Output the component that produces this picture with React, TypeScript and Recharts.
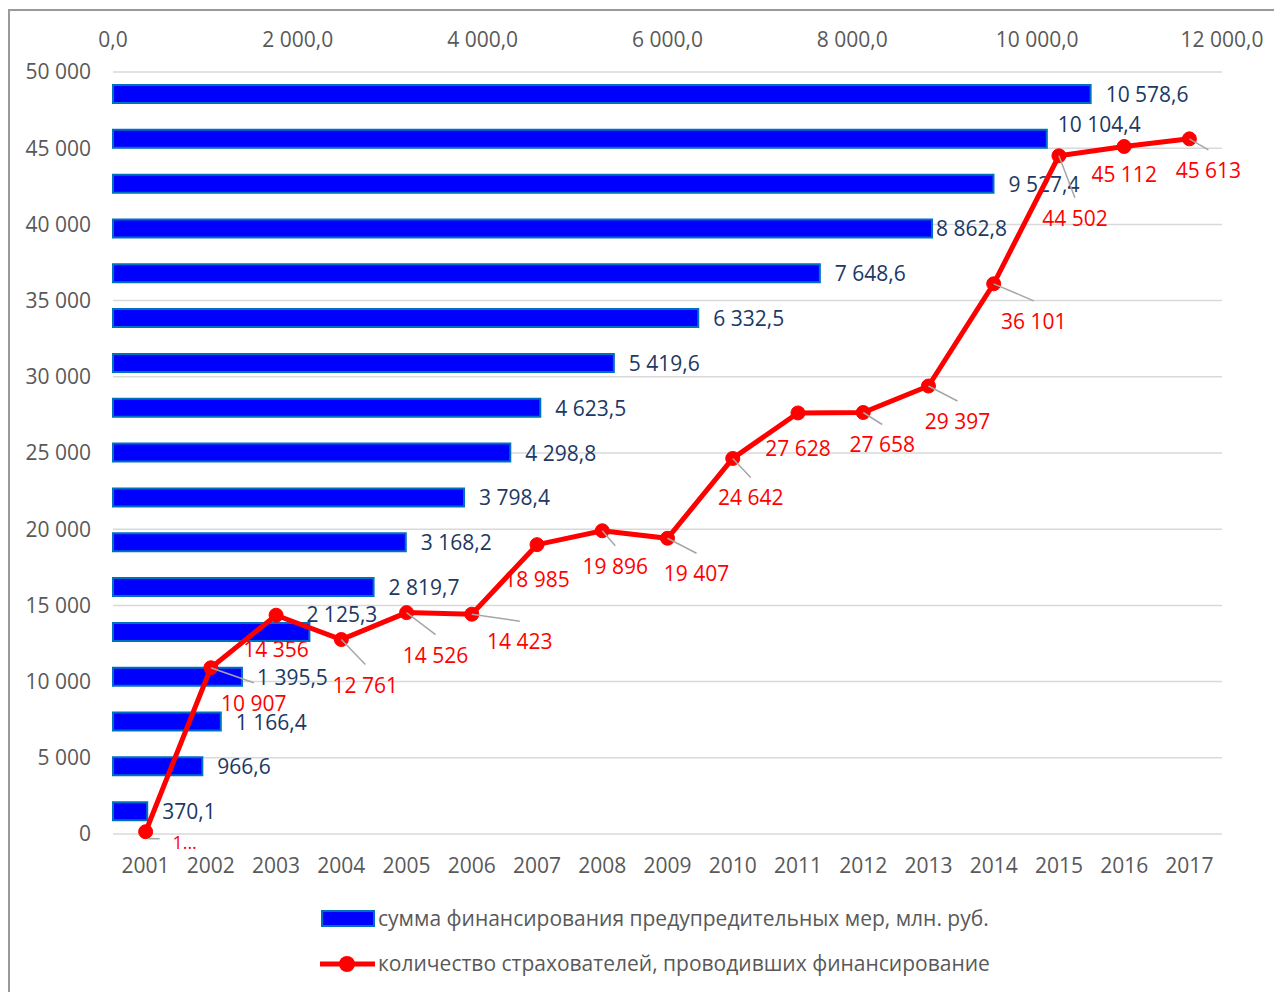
import React from "react"
import { BarChart, Bar, LineChart, Line, XAxis, YAxis, CartesianGrid, LabelList } from "recharts"

const years = ["2001", "2002", "2003", "2004", "2005", "2006", "2007", "2008", "2009", "2010", "2011", "2012", "2013", "2014", "2015", "2016", "2017"]
const fundingMln = [370.1, 966.6, 1166.4, 1395.5, 2125.3, 2819.7, 3168.2, 3798.4, 4298.8, 4623.5, 5419.6, 6332.5, 7648.6, 8862.8, 9527.4, 10104.4, 10578.6]
const insurersCount = [150, 10907, 14356, 12761, 14526, 14423, 18985, 19896, 19407, 24642, 27628, 27658, 29397, 36101, 44502, 45112, 45613]
const fundingTicks = [0, 2000, 4000, 6000, 8000, 10000, 12000]
const countTicks = [0, 5000, 10000, 15000, 20000, 25000, 30000, 35000, 40000, 45000, 50000]

// label nudges (where labels were dragged by hand in the original)
const pointLabelNudge: [number, number][] = [
  [39, 10], [43, 35], [0, 34], [24, 45], [29, 42], [48, 27], [0, 34], [13, 35], [29, 35],
  [18, 39], [0, 35], [19, 32], [29, 35], [40, 37], [16, 62], [0, 28], [19, 31],
]
const barLabelNudge: [number, number][] = [
  [0, 0], [0, 0], [0, 0], [0, 0], [-18, -18], [0, 0], [0, 0], [0, 0], [0, 0],
  [0, 0], [0, 0], [0, 0], [0, 0], [-11, 0], [0, 0], [-4, -15], [0, 0],
]

const data = years.map((year, i) => ({ year, funding: fundingMln[i], insurers: insurersCount[i] }))

const W = 1274
const H = 984
const FONT = "'Open Sans', sans-serif"
const AXIS_GRAY = "#595959"

const groupThousands = (s: string) => s.replace(/\B(?=(\d{3})+(?!\d))/g, " ")
const fmt0 = (v: number) => groupThousands(Math.round(v).toString())
const fmt1 = (v: number) => {
  const [i, d] = v.toFixed(1).split(".")
  return groupThousands(i) + "," + d
}

function BarValueLabel(props: any) {
  const { x, y, width, height, value, index } = props
  const [dx, dy] = barLabelNudge[index] || [0, 0]
  return (
    <text x={x + width + 15 + dx} y={y + height / 2 + dy} fill="#203864" fontSize={21} fontFamily={FONT} textAnchor="start" dominantBaseline="central">
      {fmt1(value)}
    </text>
  )
}

function PointLabel(props: any) {
  const { x, y, value, index } = props
  const [dx, dy] = pointLabelNudge[index] || [0, 30]
  const first = index === 0
  return (
    <g>
      {!first && dx !== 0 && (
        <line x1={x} y1={y} x2={x + dx} y2={y + dy - 20} stroke="#a6a6a6" strokeWidth={1.5} />
      )}
      {first && <polyline points={`${x + 2},${y + 7} ${x + 14},${y + 7}`} stroke="#a6a6a6" strokeWidth={1.5} fill="none" />}
      <text x={x + dx} y={y + dy} fill="#ff0000" fontSize={first ? 18 : 21} fontFamily={FONT} textAnchor="middle" dominantBaseline="central">
        {first ? "1..." : fmt0(value)}
      </text>
    </g>
  )
}

export default function App() {
  const layer: React.CSSProperties = { position: "absolute", left: 0, top: 0 }
  return (
    <div style={{ position: "relative", width: W, height: H, fontFamily: FONT, background: "#fff" }}>
      <div style={{ position: "absolute", left: 0, top: 1, width: W, height: H, borderLeft: "2px solid #9a9a9a", borderTop: "2px solid #9a9a9a", boxSizing: "border-box" }} />

      {/* grid and count/year axes */}
      <div style={layer}>
        <LineChart width={W} height={H} data={data} margin={{ top: 64, right: 60, left: 5, bottom: 98 }}>
          <CartesianGrid vertical={false} stroke="#d9d9d9" strokeWidth={1.5} />
          <XAxis dataKey="year" scale="band" height={60} axisLine={false} tickLine={false} tickMargin={18} tick={{ fill: AXIS_GRAY, fontSize: 21 }} interval={0} />
          <YAxis width={100} domain={[0, 50000]} ticks={countTicks} axisLine={false} tickLine={false} tickMargin={16} tickFormatter={fmt0} tick={{ fill: AXIS_GRAY, fontSize: 21 }} interval={0} />
          <Line dataKey="insurers" stroke="none" dot={false} activeDot={false} isAnimationActive={false} />
        </LineChart>
      </div>

      {/* horizontal bars on the top axis */}
      <div style={layer}>
        <BarChart width={W} height={H} data={data} layout="vertical" margin={{ top: 24, right: 60, left: 105, bottom: 158 }}>
          <XAxis type="number" orientation="top" height={40} domain={[0, 12000]} ticks={fundingTicks} axisLine={false} tickLine={false} tickMargin={19} tickFormatter={fmt1} tick={{ fill: AXIS_GRAY, fontSize: 21 }} interval={0} />
          <YAxis type="category" dataKey="year" reversed hide />
          <Bar dataKey="funding" fill="#0000ff" stroke="#0070c0" strokeWidth={2} barSize={18} isAnimationActive={false}>
            <LabelList dataKey="funding" content={<BarValueLabel />} />
          </Bar>
        </BarChart>
      </div>

      {/* count line on top */}
      <div style={layer}>
        <LineChart width={W} height={H} data={data} margin={{ top: 64, right: 60, left: 105, bottom: 158 }}>
          <XAxis dataKey="year" scale="band" hide />
          <YAxis domain={[0, 50000]} hide />
          <Line type="linear" dataKey="insurers" stroke="#ff0000" strokeWidth={5} dot={{ r: 7, fill: "#ff0000", stroke: "#ff0000", strokeWidth: 1 }} isAnimationActive={false}>
            <LabelList dataKey="insurers" content={<PointLabel />} />
          </Line>
        </LineChart>
      </div>

      {/* legend */}
      <svg width={W} height={H} style={{ ...layer, pointerEvents: "none" }}>
        <rect x={314} y={903} width={52} height={15} fill="#0000ff" stroke="#0070c0" strokeWidth={2} />
        <text x={370} y={910} fill={AXIS_GRAY} fontSize={21} fontFamily={FONT} dominantBaseline="central">
          сумма финансирования предупредительных мер, млн. руб.
        </text>
        <line x1={312} y1={956} x2={367} y2={956} stroke="#ff0000" strokeWidth={5} />
        <circle cx={339} cy={956} r={8} fill="#ff0000" />
        <text x={370} y={955} fill={AXIS_GRAY} fontSize={21} fontFamily={FONT} dominantBaseline="central">
          количество страхователей, проводивших финансирование
        </text>
      </svg>
    </div>
  )
}
